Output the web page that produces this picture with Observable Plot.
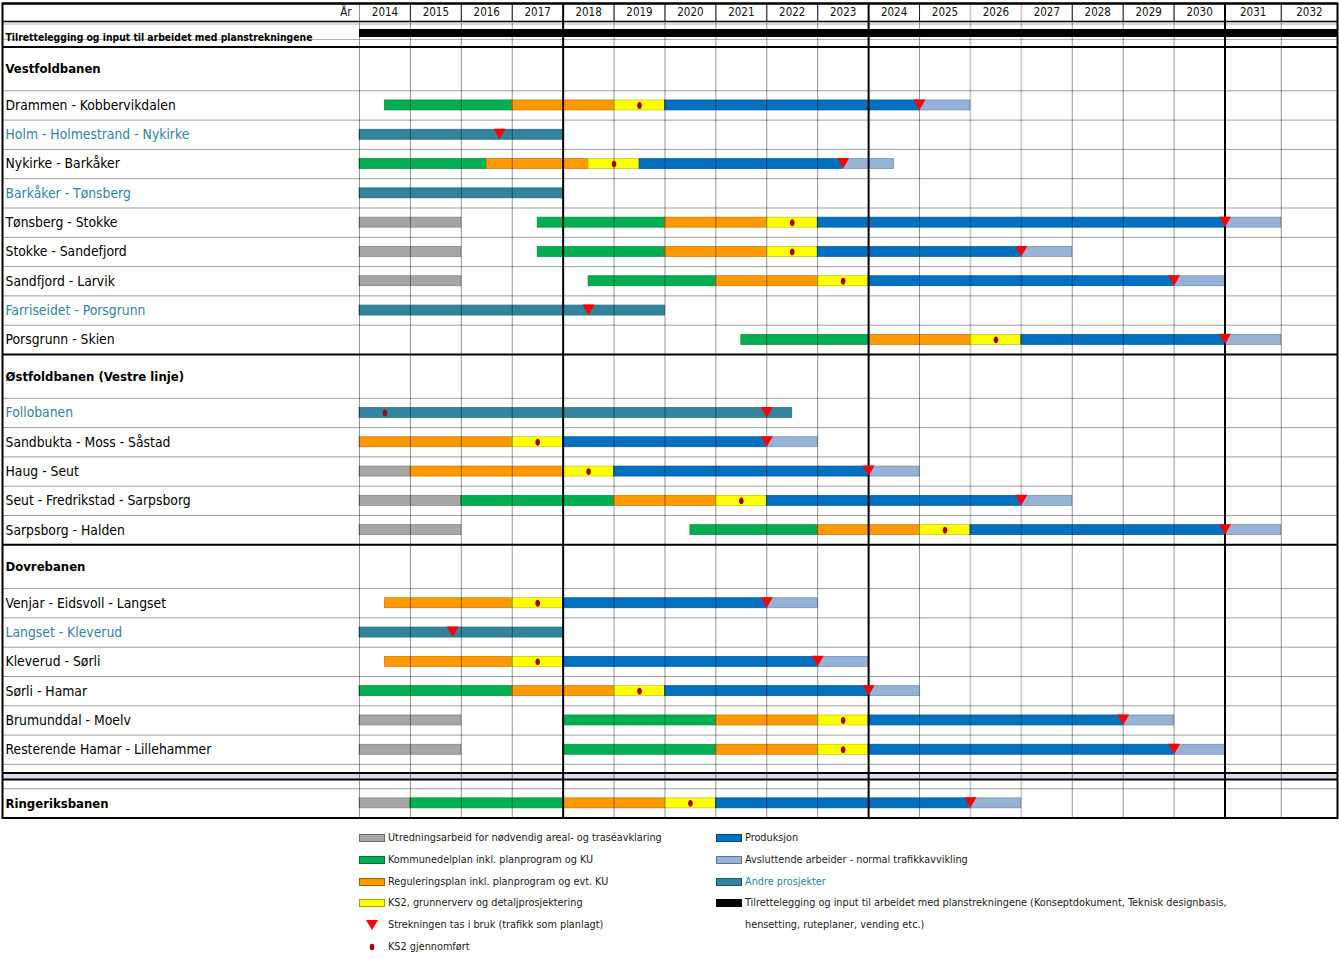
<!DOCTYPE html>
<html><head><meta charset="utf-8">
<script src="https://cdn.jsdelivr.net/npm/d3@7"></script>
<script src="https://cdn.jsdelivr.net/npm/@observablehq/plot@0.6"></script>
<style>
body{margin:0;background:#fff;}
#wrap{position:relative;width:1339px;height:959px;font-family:'Liberation Sans Narrow','Arial Narrow','DejaVu Sans Condensed',sans-serif;}
#chart svg{display:block;}
.lg{position:absolute;height:14px;line-height:14px;font-size:10.8px;color:#1a1a1a;white-space:nowrap;display:flex;align-items:center;}
.sw{display:inline-block;width:26px;height:8px;box-sizing:border-box;border:1px solid rgba(0,0,0,0.35);margin-right:3px;flex:none;}
.sy{width:26px;height:14px;margin-right:3px;flex:none;}
</style></head>
<body><div id="wrap"><div id="chart"></div><div id="legend"></div></div>
<script>
// ---------------- DATA ----------------
const years = [2014,2015,2016,2017,2018,2019,2020,2021,2022,2023,2024,2025,2026,2027,2028,2029,2030,2031,2032];
const headerLabel = "År";
const preparation = "Tilrettelegging og input til arbeidet med planstrekningene";
const sections = ["Vestfoldbanen","Østfoldbanen (Vestre linje)","Dovrebanen"];
const vestfold = ["Drammen - Kobbervikdalen","Holm - Holmestrand - Nykirke","Nykirke - Barkåker","Barkåker - Tønsberg","Tønsberg - Stokke","Stokke - Sandefjord","Sandfjord - Larvik","Farriseidet - Porsgrunn","Porsgrunn - Skien"];
const ostfold = ["Follobanen","Sandbukta - Moss - Såstad","Haug - Seut","Seut - Fredrikstad - Sarpsborg","Sarpsborg - Halden"];
const dovre = ["Venjar - Eidsvoll - Langset","Langset - Kleverud","Kleverud - Sørli","Sørli - Hamar","Brumunddal - Moelv","Resterende Hamar - Lillehammer"];
const ringerike = "Ringeriksbanen";
const otherProjects = ["Holm - Holmestrand - Nykirke","Barkåker - Tønsberg","Farriseidet - Porsgrunn","Follobanen","Langset - Kleverud"];

// phases: U utredning, K kommunedelplan, R reguleringsplan, KS2, P produksjon, A avsluttende, AP andre prosjekter, T tilrettelegging
const segments = [
  [preparation,"T",2014,2033],
  ["Drammen - Kobbervikdalen","K",2014.5,2017],["Drammen - Kobbervikdalen","R",2017,2019],["Drammen - Kobbervikdalen","KS2",2019,2020],["Drammen - Kobbervikdalen","P",2020,2025],["Drammen - Kobbervikdalen","A",2025,2026],
  ["Holm - Holmestrand - Nykirke","AP",2014,2018],
  ["Nykirke - Barkåker","K",2014,2016.5],["Nykirke - Barkåker","R",2016.5,2018.5],["Nykirke - Barkåker","KS2",2018.5,2019.5],["Nykirke - Barkåker","P",2019.5,2023.5],["Nykirke - Barkåker","A",2023.5,2024.5],
  ["Barkåker - Tønsberg","AP",2014,2018],
  ["Tønsberg - Stokke","U",2014,2016],["Tønsberg - Stokke","K",2017.5,2020],["Tønsberg - Stokke","R",2020,2022],["Tønsberg - Stokke","KS2",2022,2023],["Tønsberg - Stokke","P",2023,2031],["Tønsberg - Stokke","A",2031,2032],
  ["Stokke - Sandefjord","U",2014,2016],["Stokke - Sandefjord","K",2017.5,2020],["Stokke - Sandefjord","R",2020,2022],["Stokke - Sandefjord","KS2",2022,2023],["Stokke - Sandefjord","P",2023,2027],["Stokke - Sandefjord","A",2027,2028],
  ["Sandfjord - Larvik","U",2014,2016],["Sandfjord - Larvik","K",2018.5,2021],["Sandfjord - Larvik","R",2021,2023],["Sandfjord - Larvik","KS2",2023,2024],["Sandfjord - Larvik","P",2024,2030],["Sandfjord - Larvik","A",2030,2031],
  ["Farriseidet - Porsgrunn","AP",2014,2020],
  ["Porsgrunn - Skien","K",2021.5,2024],["Porsgrunn - Skien","R",2024,2026],["Porsgrunn - Skien","KS2",2026,2027],["Porsgrunn - Skien","P",2027,2031],["Porsgrunn - Skien","A",2031,2032],
  ["Follobanen","AP",2014,2022.5],
  ["Sandbukta - Moss - Såstad","R",2014,2017],["Sandbukta - Moss - Såstad","KS2",2017,2018],["Sandbukta - Moss - Såstad","P",2018,2022],["Sandbukta - Moss - Såstad","A",2022,2023],
  ["Haug - Seut","U",2014,2015],["Haug - Seut","R",2015,2018],["Haug - Seut","KS2",2018,2019],["Haug - Seut","P",2019,2024],["Haug - Seut","A",2024,2025],
  ["Seut - Fredrikstad - Sarpsborg","U",2014,2016],["Seut - Fredrikstad - Sarpsborg","K",2016,2019],["Seut - Fredrikstad - Sarpsborg","R",2019,2021],["Seut - Fredrikstad - Sarpsborg","KS2",2021,2022],["Seut - Fredrikstad - Sarpsborg","P",2022,2027],["Seut - Fredrikstad - Sarpsborg","A",2027,2028],
  ["Sarpsborg - Halden","U",2014,2016],["Sarpsborg - Halden","K",2020.5,2023],["Sarpsborg - Halden","R",2023,2025],["Sarpsborg - Halden","KS2",2025,2026],["Sarpsborg - Halden","P",2026,2031],["Sarpsborg - Halden","A",2031,2032],
  ["Venjar - Eidsvoll - Langset","R",2014.5,2017],["Venjar - Eidsvoll - Langset","KS2",2017,2018],["Venjar - Eidsvoll - Langset","P",2018,2022],["Venjar - Eidsvoll - Langset","A",2022,2023],
  ["Langset - Kleverud","AP",2014,2018],
  ["Kleverud - Sørli","R",2014.5,2017],["Kleverud - Sørli","KS2",2017,2018],["Kleverud - Sørli","P",2018,2023],["Kleverud - Sørli","A",2023,2024],
  ["Sørli - Hamar","K",2014,2017],["Sørli - Hamar","R",2017,2019],["Sørli - Hamar","KS2",2019,2020],["Sørli - Hamar","P",2020,2024],["Sørli - Hamar","A",2024,2025],
  ["Brumunddal - Moelv","U",2014,2016],["Brumunddal - Moelv","K",2018,2021],["Brumunddal - Moelv","R",2021,2023],["Brumunddal - Moelv","KS2",2023,2024],["Brumunddal - Moelv","P",2024,2029],["Brumunddal - Moelv","A",2029,2030],
  ["Resterende Hamar - Lillehammer","U",2014,2016],["Resterende Hamar - Lillehammer","K",2018,2021],["Resterende Hamar - Lillehammer","R",2021,2023],["Resterende Hamar - Lillehammer","KS2",2023,2024],["Resterende Hamar - Lillehammer","P",2024,2030],["Resterende Hamar - Lillehammer","A",2030,2031],
  ["Ringeriksbanen","U",2014,2015],["Ringeriksbanen","K",2015,2018],["Ringeriksbanen","R",2018,2020],["Ringeriksbanen","KS2",2020,2021],["Ringeriksbanen","P",2021,2026],["Ringeriksbanen","A",2026,2027]
];
const ks2Done = [
  ["Drammen - Kobbervikdalen",2019.5],["Nykirke - Barkåker",2019],["Tønsberg - Stokke",2022.5],["Stokke - Sandefjord",2022.5],["Sandfjord - Larvik",2023.5],["Porsgrunn - Skien",2026.5],
  ["Follobanen",2014.5],["Sandbukta - Moss - Såstad",2017.5],["Haug - Seut",2018.5],["Seut - Fredrikstad - Sarpsborg",2021.5],["Sarpsborg - Halden",2025.5],
  ["Venjar - Eidsvoll - Langset",2017.5],["Kleverud - Sørli",2017.5],["Sørli - Hamar",2019.5],["Brumunddal - Moelv",2023.5],["Resterende Hamar - Lillehammer",2023.5],["Ringeriksbanen",2020.5]
];
const openings = [
  ["Drammen - Kobbervikdalen",2025],["Holm - Holmestrand - Nykirke",2016.75],["Nykirke - Barkåker",2023.5],["Tønsberg - Stokke",2031],["Stokke - Sandefjord",2027],["Sandfjord - Larvik",2030],["Farriseidet - Porsgrunn",2018.5],["Porsgrunn - Skien",2031],
  ["Follobanen",2022],["Sandbukta - Moss - Såstad",2022],["Haug - Seut",2024],["Seut - Fredrikstad - Sarpsborg",2027],["Sarpsborg - Halden",2031],
  ["Venjar - Eidsvoll - Langset",2022],["Langset - Kleverud",2015.83],["Kleverud - Sørli",2023],["Sørli - Hamar",2024],["Brumunddal - Moelv",2029],["Resterende Hamar - Lillehammer",2030],
  ["Ringeriksbanen",2026]
];
const legendLeft = [["U","Utredningsarbeid for nødvendig areal- og traséavklaring"],["K","Kommunedelplan inkl. planprogram og KU"],["R","Reguleringsplan inkl. planprogram og evt. KU"],["KS2","KS2, grunnerverv og detaljprosjektering"],["open","Strekningen tas i bruk (trafikk som planlagt)"],["ks2done","KS2 gjennomført"]];
const legendRight = [["P","Produksjon"],["A","Avsluttende arbeider - normal trafikkavvikling"],["AP","Andre prosjekter"],["T","Tilrettelegging og input til arbeidet med planstrekningene (Konseptdokument, Teknisk designbasis,\nhensetting, ruteplaner, vending etc.)"]];

// ---------------- STYLE / LAYOUT ----------------
const phaseColor = {U:"#a6a6a6",K:"#00b050",R:"#ff9900",KS2:"#ffff00",P:"#0070c0",A:"#95b3d7",AP:"#31849b",T:"#000000"};
const teal = "#31849b";
const FONT = "'Liberation Sans Narrow','Arial Narrow','DejaVu Sans Condensed',sans-serif";
const rowH = {year:18, prep:25.5, section:43.8, item:29.3, gap:8.6, double:6.4, gap2:9.3};

const rows = [];
const add = (key, type, extra = {}) => rows.push({key, type, ...extra});
add(headerLabel, "year");
add(preparation, "prep");
[[sections[0], vestfold], [sections[1], ostfold], [sections[2], dovre]].forEach(([s, items]) => {
  add(s, "section");
  items.forEach(n => add(n, "item"));
});
add("gapA", "gap"); add("double", "double"); add("gapB", "gap2");
add(ringerike, "item", {bold: true});
let acc = 0;
rows.forEach(r => { r.y0 = acc; acc += rowH[r.type]; r.y1 = acc; r.yc = (r.y0 + r.y1) / 2; });
const total = acc;
const row = new Map(rows.map(r => [r.key, r]));
const yearRow = row.get(headerLabel), prepRow = row.get(preparation), dblRow = row.get("double");

const thick = [0, total, prepRow.y1, ...rows.filter(r => r.type === "section").map(r => r.y0), dblRow.y0, dblRow.y1];
const thin = rows.filter(r => r.type === "section" || r.type === "item" || r.type === "gap2").map(r => r.y1)
  .filter(v => !thick.some(t => Math.abs(t - v) < 0.5));
const thickYears = [2018, 2024, 2031];
const lightYears = [2026, 2027];
const gridYears = years.filter(y => !thickYears.includes(y) && !lightYears.includes(y));

const itemRows = rows.filter(r => r.type === "item" && !r.bold);
const boldRows = rows.filter(r => r.type === "section" || r.bold);

// down-pointing triangle & ellipse symbols
const triDown = {draw(ctx){ ctx.moveTo(-6,-5.5); ctx.lineTo(6,-5.5); ctx.lineTo(0,5); ctx.closePath(); }};
const ellipse = {draw(ctx){ const rx=2.3, ry=3.4, k=0.5523;
  ctx.moveTo(0,-ry);
  ctx.bezierCurveTo(k*rx,-ry, rx,-k*ry, rx,0);
  ctx.bezierCurveTo(rx,k*ry, k*rx,ry, 0,ry);
  ctx.bezierCurveTo(-k*rx,ry, -rx,k*ry, -rx,0);
  ctx.bezierCurveTo(-rx,-k*ry, -k*rx,-ry, 0,-ry);
  ctx.closePath(); }};

const barSegs = segments.filter(s => s[1] !== "T");
const prepSegs = segments.filter(s => s[1] === "T");

const chart = Plot.plot({
  width: 1339, height: 820, margin: 0,
  x: {type: "linear", domain: [2014, 2031, 2033], range: [359, 1224.5, 1337], axis: null},
  y: {type: "linear", domain: [0, total], range: [3, 3 + total], axis: null},
  style: {fontFamily: FONT, background: "#fff", overflow: "visible"},
  marks: [
    // double-line band
    Plot.rect([dblRow], {x1: 2014, x2: 2033, y1: "y0", y2: "y1", fill: "#dcdce8", insetLeft: -357}),
    // bars
    Plot.rect(barSegs, {x1: d => d[2], x2: d => d[3], y1: d => row.get(d[0]).y0, y2: d => row.get(d[0]).y1,
      fill: d => phaseColor[d[1]], stroke: d => d3.color(phaseColor[d[1]]).darker(0.7).formatHex(), strokeWidth: 0.7,
      insetTop: 9.65, insetBottom: 9.65}),
    Plot.rect(prepSegs, {x1: d => d[2], x2: d => d[3], y1: d => row.get(d[0]).y0, y2: d => row.get(d[0]).y1,
      fill: "#000", insetTop: 8, insetBottom: 9.5}),
    // horizontal lines
    Plot.ruleY(thin, {stroke: "#000", strokeOpacity: 0.38, strokeWidth: 1, insetLeft: 2, insetRight: 2}),
    Plot.ruleY([prepRow.y0], {stroke: "#000", strokeOpacity: 0.3, dy: 2.5, insetLeft: 2, insetRight: 2}),
    Plot.ruleY([prepRow.y1], {stroke: "#000", strokeOpacity: 0.3, dy: -7.5, insetLeft: 2, insetRight: 2}),
    Plot.ruleY([yearRow.y1], {stroke: "#000", strokeWidth: 1.5, insetLeft: 2, insetRight: 2}),
    // vertical grid
    Plot.ruleX(gridYears, {y1: 0, y2: total, stroke: "#000", strokeOpacity: 0.42, strokeWidth: 1}),
    Plot.ruleX(lightYears, {y1: 0, y2: total, stroke: "#000", strokeOpacity: 0.2, strokeWidth: 1.8}),
    Plot.ruleX(gridYears.filter(y => y > 2014), {y1: 0, y2: yearRow.y1, stroke: "#000", strokeOpacity: 0.8}),
    Plot.ruleX(thickYears, {y1: 0, y2: total, stroke: "#000", strokeWidth: 2}),
    // thick horizontal lines
    Plot.ruleY(thick, {stroke: "#000", strokeWidth: 2, insetLeft: 2, insetRight: 2}),
    Plot.frame({stroke: "#000", strokeWidth: 2, insetLeft: 2, insetRight: 2, insetTop: 3, insetBottom: 820 - 3 - total}),
    // header texts
    Plot.text(years, {x: d => d + 0.5, y: yearRow.yc, text: d => String(d), fontSize: 11.5, fill: "#111"}),
    Plot.text([headerLabel], {x: 2014, y: yearRow.yc, text: d => d, textAnchor: "end", dx: -8, fontSize: 11.5, fill: "#111"}),
    Plot.text([prepRow], {y: "yc", text: "key", frameAnchor: "left", textAnchor: "start", dx: 5, dy: 3, fontSize: 10.3, fontWeight: "bold", fill: "#000"}),
    // row labels
    Plot.text(itemRows, {y: "yc", text: "key", frameAnchor: "left", textAnchor: "start", dx: 5, fontSize: 13.8,
      fill: d => otherProjects.includes(d.key) ? teal : "#000"}),
    Plot.text(boldRows, {y: "yc", text: "key", frameAnchor: "left", textAnchor: "start", dx: 5, fontSize: 13, fontWeight: "bold", fill: "#000"}),
    // milestones
    Plot.dot(ks2Done, {x: d => d[1], y: d => row.get(d[0]).yc, symbol: ellipse, fill: "#a3001e", stroke: null}),
    Plot.dot(openings, {x: d => d[1], y: d => row.get(d[0]).yc, symbol: triDown, fill: "#ff0000", stroke: null, dy: -0.5})
  ]
});
document.getElementById("chart").appendChild(chart);

// ---------------- LEGEND (HTML) ----------------
const legend = document.getElementById("legend");
const legendTop = 838, legendStep = 21.8;
function symbolSvg(kind){
  if (kind === "open") return '<svg class="sy" viewBox="0 0 26 14"><path d="M7,2 L19,2 L13,12 Z" fill="#ff0000"/></svg>';
  return '<svg class="sy" viewBox="0 0 26 14"><ellipse cx="13" cy="7" rx="2.3" ry="3.3" fill="#a3001e"/></svg>';
}
function addLegend(items, left){
  let i = 0;
  items.forEach(([kind, label]) => {
    label.split("\n").forEach((line, j) => {
      const div = document.createElement("div");
      div.className = "lg";
      div.style.left = (j === 0 ? left : left + 29) + "px";
      div.style.top = (legendTop + i * legendStep - 7) + "px";
      let sym = "";
      if (j === 0) sym = phaseColor[kind] ? `<span class="sw" style="background:${phaseColor[kind]}"></span>` : symbolSvg(kind);
      const col = kind === "AP" ? teal : "#1a1a1a";
      div.innerHTML = sym + `<span style="color:${col}">${line}</span>`;
      legend.appendChild(div);
      i++;
    });
  });
}
addLegend(legendLeft, 359);
addLegend(legendRight, 716);
</script></body></html>
